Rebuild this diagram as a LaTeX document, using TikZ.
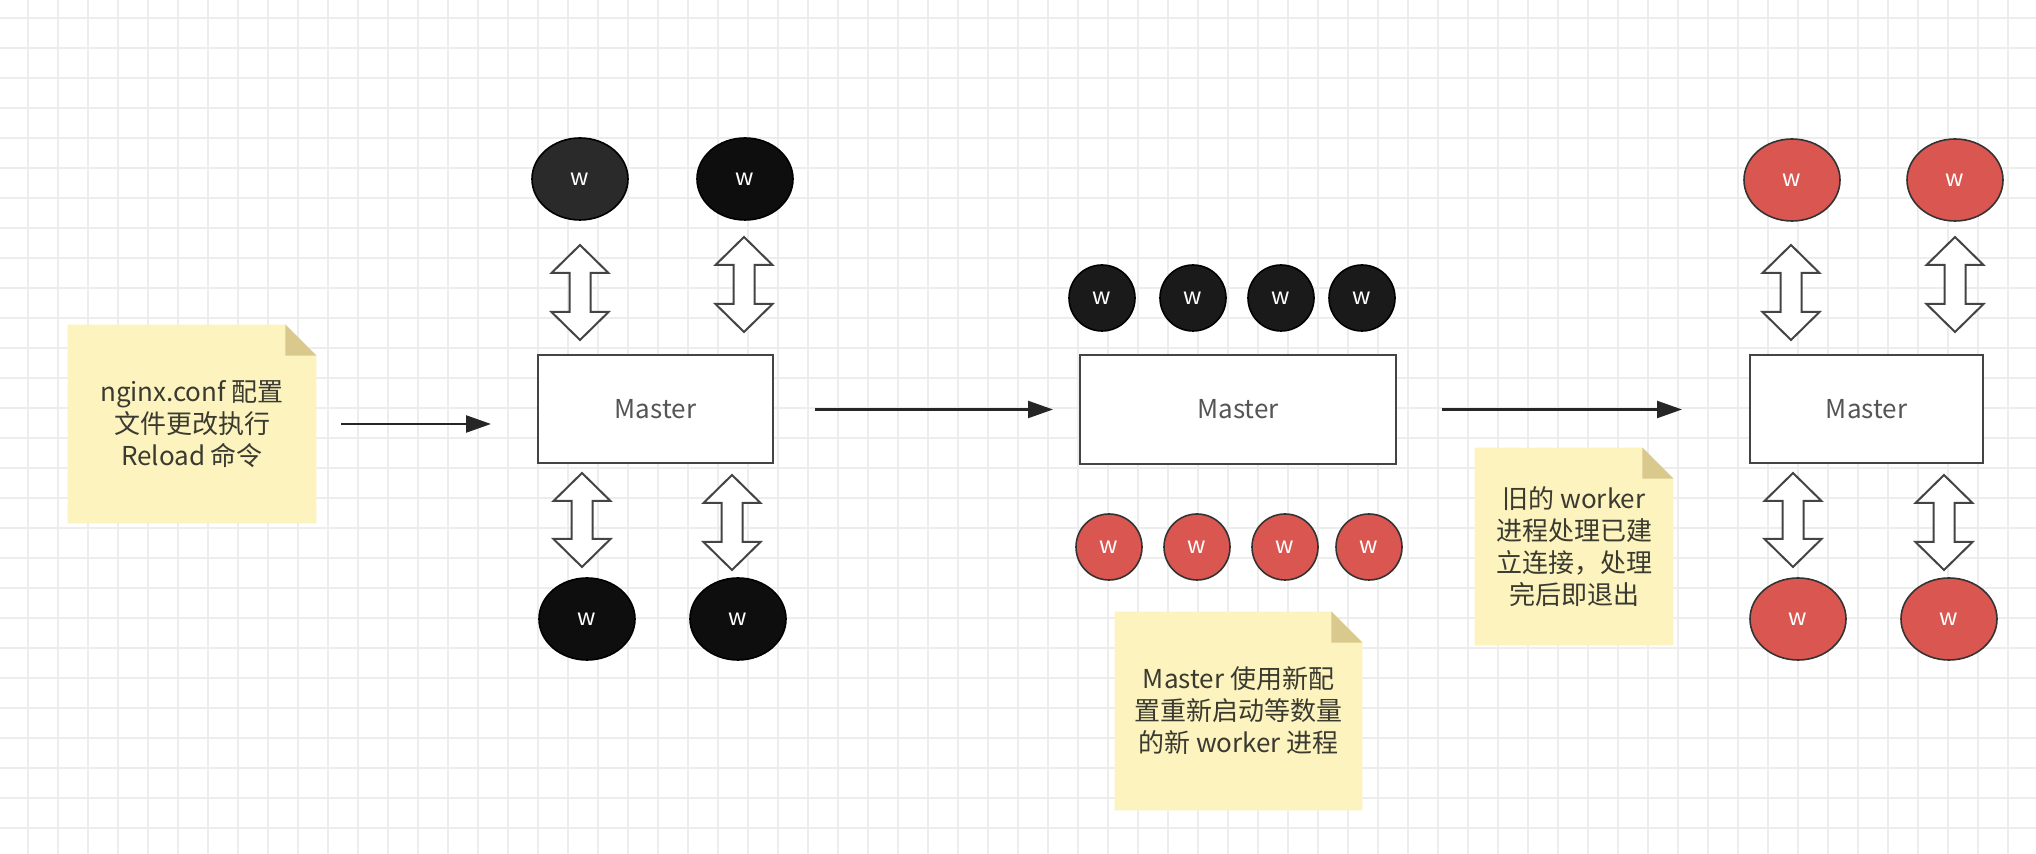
\documentclass[tikz,border=0pt]{standalone}
\usepackage{fontspec}
\setmainfont{Noto Sans CJK SC}
\usetikzlibrary{arrows.meta,shapes.geometric,backgrounds}
\definecolor{gridc}{HTML}{EDEDED}
\definecolor{notey}{HTML}{FCF3BE}
\definecolor{notefold}{HTML}{D9C98C}
\definecolor{notetxt}{HTML}{3A3A30}
\definecolor{wred}{HTML}{DA5650}
\definecolor{wdark}{HTML}{0E0E0E}
\definecolor{wgrey}{HTML}{2A2A2A}
\definecolor{boxline}{HTML}{444444}
\definecolor{mtxt}{HTML}{555555}
\newcommand\dblarr[3]{%
  \draw[blk] (#1,#2) -- ++(28.5,28) -- ++(-18,0) -- ({#1+10.5},{#3-28}) -- ++(18,0)
    -- (#1,#3) -- ++(-28.5,-28) -- ++(18,0) -- ({#1-10.5},{#2+28}) -- ++(-18,0) -- cycle;}
\newcommand\notebg[1]{%
  \fill[notey] (#1.north west) -- ([xshift=-15.5pt]#1.north east) -- ([yshift=-15.5pt]#1.north east)
    -- (#1.south east) -- (#1.south west) -- cycle;
  \fill[notefold] ([xshift=-15.5pt]#1.north east) -- ([xshift=-15.5pt,yshift=-15.5pt]#1.north east)
    -- ([yshift=-15.5pt]#1.north east) -- cycle;}
\begin{document}
\begin{tikzpicture}[x=0.5pt,y=-0.5pt,
  master/.style={draw=boxline, line width=1pt, fill=white, inner sep=0,
    font=\fontsize{13}{16}\selectfont, text=mtxt},
  wk/.style={ellipse, draw=black, line width=0.8pt, inner sep=0,
    font=\fontsize{11.5}{13}\selectfont, text=white},
  blackw/.style={wk, fill=wdark, minimum width=48pt, minimum height=41pt},
  redw/.style={wk, fill=wred, draw=black!80, minimum width=48pt, minimum height=41pt},
  bcirc/.style={wk, fill=wdark!95!white, minimum width=33pt, minimum height=33pt},
  rcirc/.style={wk, fill=wred, draw=black!80, minimum width=33pt, minimum height=33pt},
  notetext/.style={align=center, font=\fontsize{13}{16}\selectfont, text=notetxt, inner sep=0},
  flow/.style={-{Triangle[length=12.5pt,width=8.5pt]}, line width=1.2pt, draw=black!85},
  blk/.style={draw=boxline, line width=1pt, fill=white, line join=miter}]
\useasboundingbox (0,0) rectangle (2036,854);
\begin{scope}[on background layer]
  \fill[white] (0,0) rectangle (2036,854);
  \foreach \gx in {-2,28,...,2040} \draw[gridc, line width=1pt] (\gx,0) -- (\gx,854);
  \foreach \gy in {-12,18,...,860} \draw[gridc, line width=1pt] (0,\gy) -- (2036,\gy);
\end{scope}

% notes
\node[notetext, minimum width=124pt, minimum height=99pt] (n1) at (192,424)
  {nginx.conf 配置\\文件更改执行\\Reload 命令};
\node[notetext, minimum width=123.5pt, minimum height=99pt] (n2) at (1238.5,711)
  {Master 使用新配\\置重新启动等数量\\的新 worker 进程};
\node[notetext, minimum width=99pt, minimum height=98.5pt] (n3) at (1574,546.5)
  {旧的 worker\\进程处理已建\\立连接，处理\\完后即退出};
\begin{scope}[on background layer]
  \notebg{n1}\notebg{n2}\notebg{n3}
\end{scope}

% left stage
\node[master, minimum width=117.5pt, minimum height=54pt] (m1) at (655.5,409) {Master};
\node[blackw, fill=wgrey] (a1) at (580,179) {w};
\node[blackw] (a2) at (745,179) {w};
\node[blackw] (a3) at (587,619) {w};
\node[blackw] (a4) at (738,619) {w};
\dblarr{580}{245}{340}
\dblarr{744}{237}{332}
\dblarr{582}{473}{567}
\dblarr{732}{475}{570}

% middle stage
\node[master, minimum width=158pt, minimum height=54.5pt] (m2) at (1238,409.5) {Master};
\node[bcirc] (b1) at (1102,298) {w};
\node[bcirc] (b2) at (1193,298) {w};
\node[bcirc] (b3) at (1281,298) {w};
\node[bcirc] (b4) at (1362,298) {w};
\node[rcirc] (r1) at (1109,547) {w};
\node[rcirc] (r2) at (1197,547) {w};
\node[rcirc] (r3) at (1285,547) {w};
\node[rcirc] (r4) at (1369,547) {w};

% right stage
\node[master, minimum width=116.5pt, minimum height=54pt] (m3) at (1866.5,409) {Master};
\node[redw] (c1) at (1792,180) {w};
\node[redw] (c2) at (1955,180) {w};
\node[redw] (c3) at (1798,619) {w};
\node[redw] (c4) at (1949,619) {w};
\dblarr{1791}{245}{340}
\dblarr{1955}{237}{332}
\dblarr{1793}{473}{567}
\dblarr{1944}{475}{570}

% flow arrows
\draw[flow, shorten <=12.5pt, shorten >=23pt] (n1.east) -- (n1.east -| m1.west);
\draw[flow, shorten <=20.5pt, shorten >=13pt] (m1.east |- m2.west) -- (m2.west);
\draw[flow, shorten <=22.5pt, shorten >=33.5pt] (m2.east) -- (m2.east -| m3.west);
\end{tikzpicture}
\end{document}
